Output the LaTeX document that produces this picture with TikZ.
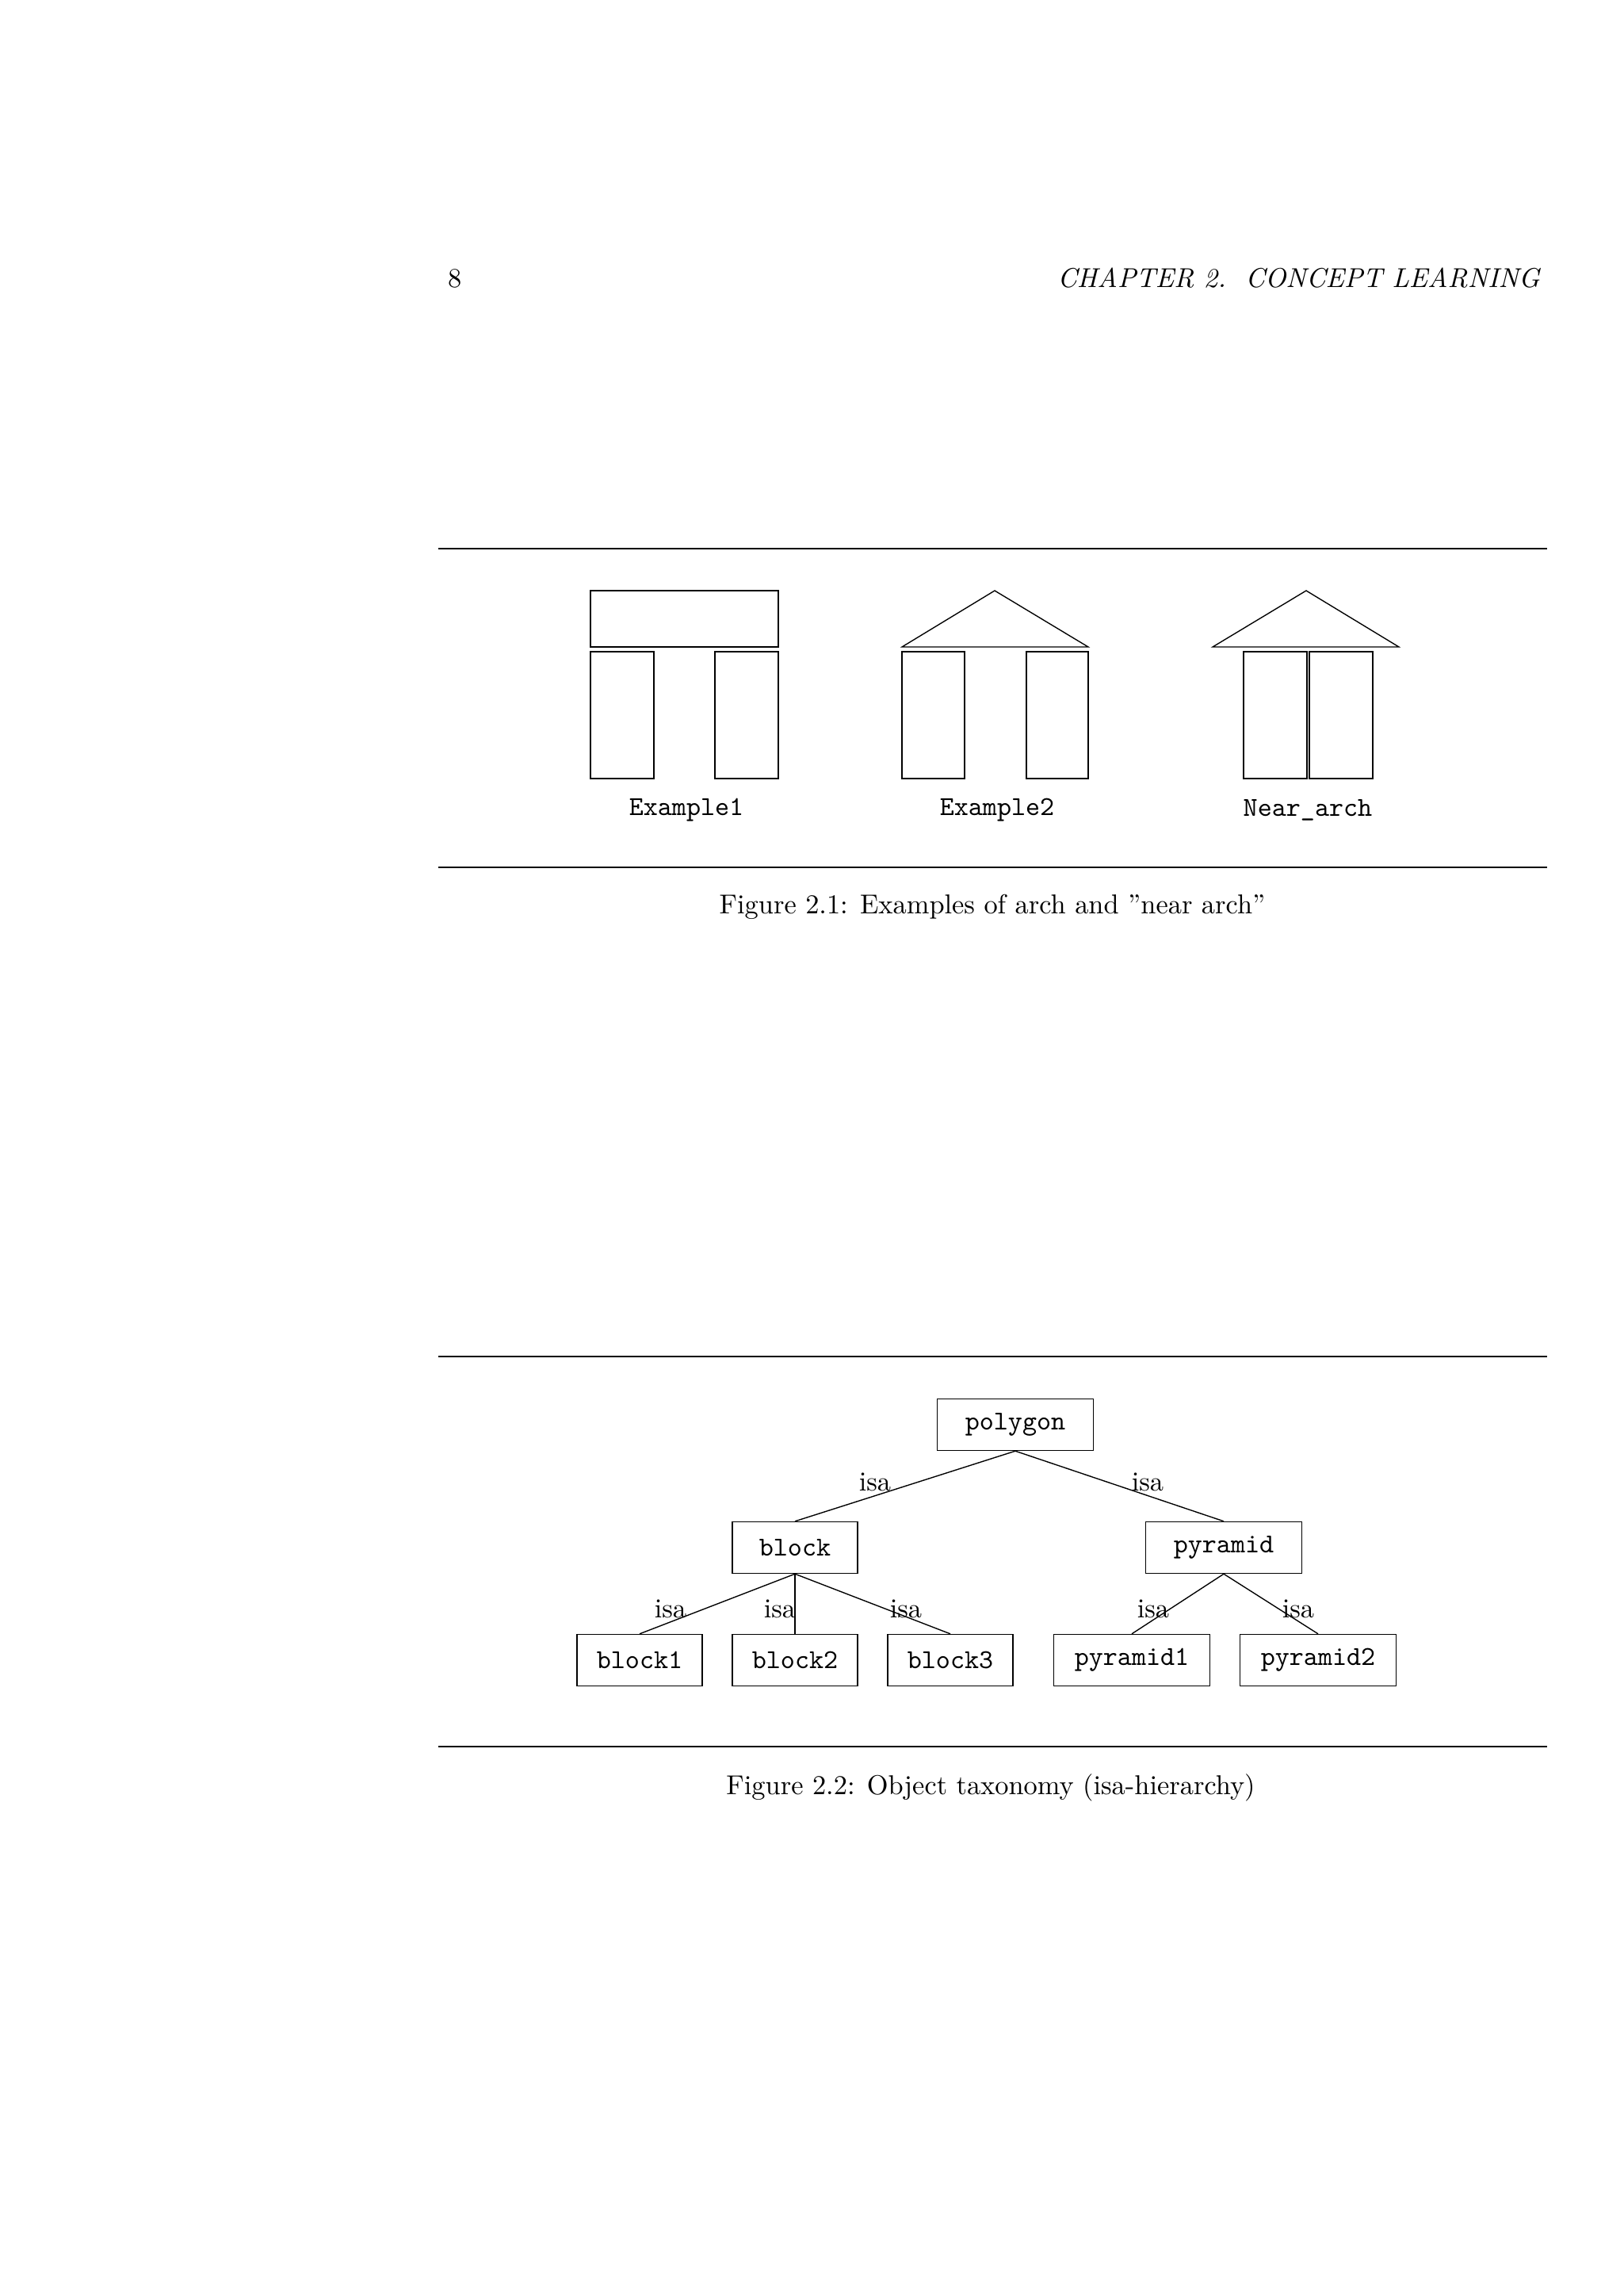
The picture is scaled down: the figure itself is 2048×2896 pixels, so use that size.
\documentclass[tikz,border=0pt]{standalone}
\begin{document}
\begin{tikzpicture}[x=0.29067pt,y=-0.29067pt,line width=0.4pt,
  box/.style={draw,font=\ttfamily,minimum height=18.9pt,inner sep=0pt},
  bw/.style={minimum width=46pt}, pw/.style={minimum width=57.3pt},
  isal/.style={font=\rmfamily}]
\useasboundingbox (0,0) rectangle (2048,2896);
\node[anchor=base west] (pg) at (553,362) {8};
\node[anchor=base east] (hd) at (1955,362) {\itshape CHAPTER 2.\ \ CONCEPT LEARNING};
% figure 2.1
\draw (553,692) -- (1952,692);
\draw (745,745) rectangle (982,816);
\draw (745,822) rectangle (825,982);
\draw (902,822) rectangle (982,982);
\draw (1138,816) -- (1255,745) -- (1373,816) -- cycle;
\draw (1138,822) rectangle (1217,982);
\draw (1295,822) rectangle (1373,982);
\draw (1530,816) -- (1648,745) -- (1765,816) -- cycle;
\draw (1569,822) rectangle (1649,982);
\draw (1652,822) rectangle (1732,982);
\node[font=\ttfamily] (e1) at (866,1022) {Example1};
\node[font=\ttfamily] (e2) at (1258,1022) {Example2};
\node[font=\ttfamily] (na) at (1650,1022) {Near\_arch};
\draw (553,1094) -- (1952,1094);
\node (c1) at (1252,1144) {Figure 2.1: Examples of arch and ''near arch''};
% figure 2.2
\draw (553,1711) -- (1952,1711);
\node[box,pw] (poly) at (1281,1797) {polygon};
\node[box,bw] (blk) at (1003,1952) {block};
\node[box,pw] (pyr) at (1544,1952) {pyramid};
\node[box,bw] (b1) at (807,2094) {block1};
\node[box,bw] (b2) at (1003,2094) {block2};
\node[box,bw] (b3) at (1199,2094) {block3};
\node[box,pw] (p1) at (1428,2094) {pyramid1};
\node[box,pw] (p2) at (1663,2094) {pyramid2};
\draw (poly.south) -- (blk.north);
\draw (poly.south) -- (pyr.north);
\draw (blk.south) -- (b1.north);
\draw (blk.south) -- (b2.north);
\draw (blk.south) -- (b3.north);
\draw (pyr.south) -- (p1.north);
\draw (pyr.south) -- (p2.north);
\node[isal] (l1) at (1104,1869) {isa};
\node[isal] (l2) at (1448,1869) {isa};
\node[isal] (l3) at (846,2029) {isa};
\node[isal] (l4) at (984,2029) {isa};
\node[isal] (l5) at (1143,2029) {isa};
\node[isal] (l6) at (1455,2029) {isa};
\node[isal] (l7) at (1638,2029) {isa};
\draw (553,2203) -- (1952,2203);
\node (c2) at (1250,2255) {Figure 2.2: Object taxonomy (isa-hierarchy)};
\end{tikzpicture}
\end{document}
